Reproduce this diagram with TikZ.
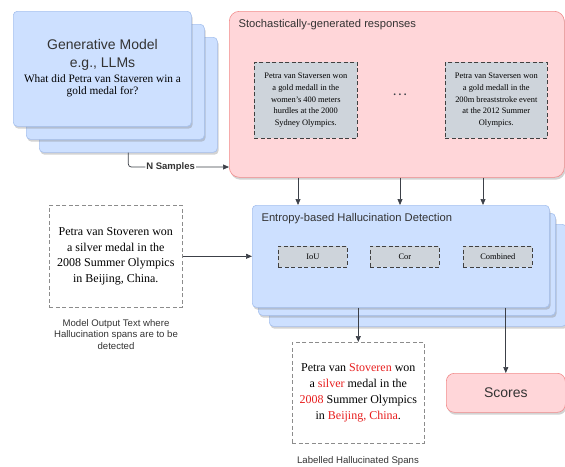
\documentclass[tikz,border=0pt]{standalone}
\usepackage{fontspec}
\setmainfont{Liberation Serif}
\setsansfont{Liberation Sans}
\usetikzlibrary{calc}
\usetikzlibrary{shadows}
\usetikzlibrary{arrows.meta}

\definecolor{cardblue}{RGB}{205,224,255}
\definecolor{cardblueline}{RGB}{165,192,238}
\definecolor{cardpink}{RGB}{255,214,217}
\definecolor{cardpinkline}{RGB}{242,140,140}
\definecolor{boxgray}{RGB}{206,212,219}
\definecolor{textdark}{RGB}{51,51,51}
\definecolor{linedark}{RGB}{60,64,72}
\definecolor{spanred}{RGB}{232,30,30}

\tikzset{
    card/.style={draw=cardblueline, fill=cardblue, rounded corners=4pt, line width=0.6pt,
        anchor=north west, inner sep=0pt,
        drop shadow={shadow xshift=1.2pt, shadow yshift=-2.4pt, opacity=0.35}},
    pinkcard/.style={card, draw=cardpinkline, fill=cardpink},
    sample/.style={draw=black!75, fill=boxgray, dash pattern=on 4pt off 2.5pt, line width=0.6pt,
        anchor=north west, inner sep=0pt, align=center,
        font=\fontsize{8.4}{11.6}\selectfont},
    textbox/.style={draw=black!45, fill=white, dash pattern=on 4pt off 2.5pt, line width=0.6pt,
        anchor=north west, inner sep=0pt, align=center,
        font=\fontsize{12}{15.9}\selectfont},
    caption/.style={align=center, text=textdark, font=\sffamily\fontsize{9.6}{11.5}\selectfont},
    conn/.style={draw=linedark, line width=0.7pt},
    arr/.style={conn, -{Triangle[length=6pt,width=5pt]}}
}

\begin{document}
\begin{tikzpicture}[x=1pt, y=-1pt]
    \useasboundingbox (0,0) rectangle (565,466);

    % generative model stack
    \foreach \i/\d in {3/26,2/13}{
        \node[card, minimum width=178pt, minimum height=115pt] (gen\i) at (13+\d, 11+\d) {};
    }
    \node[card, minimum width=178pt, minimum height=115pt] (gen1) at (13,11) {};
    \node[align=center, text=textdark, font=\sffamily\fontsize{14}{18}\selectfont] (gentitle) at (102.5,55) {Generative Model\\e.g., LLMs};
    \node[align=center, font=\fontsize{11.3}{12.2}\selectfont] (genq) at (102.5,86) {What did Petra van Staveren win a\\gold medal for?};

    % sampled responses
    \node[pinkcard, rounded corners=10pt, minimum width=335pt, minimum height=166pt] (pink) at (229,11) {};
    \node[anchor=west, text=textdark, font=\sffamily\fontsize{11.2}{13}\selectfont] (pinktitle) at (235,25) {Stochastically-generated responses};
    \node[sample, minimum width=103pt, minimum height=76pt] (resp1) at (254,62)
        {Petra van Staversen won\\a gold medall in the\\women's 400 meters\\hurdles at the 2000\\Sydney Olympics.};
    \node[text=linedark, font=\bfseries\fontsize{11}{12}\selectfont] (dots) at (400,95) {.\hspace{2.4pt}.\hspace{2.4pt}.};
    \node[sample, minimum width=102pt, minimum height=76pt] (resp2) at (445,62)
        {Petra van Staversen won\\a gold medall in the\\200m breaststroke event\\at the 2012 Summer\\Olympics.};

    % detection stack
    \node[card, minimum width=297pt, minimum height=102pt] (det3) at (269,224) {};
    \node[card, minimum width=297pt, minimum height=102pt] (det2) at (258,213) {};
    \node[card, minimum width=297pt, minimum height=102pt] (det1) at (252,205) {};
    \node[anchor=west, text=textdark, font=\sffamily\fontsize{11.2}{13}\selectfont] (dettitle) at (258,219) {Entropy-based Hallucination Detection};
    \node[sample, minimum width=69pt, minimum height=21pt] (iou) at (278,246) {IoU};
    \node[sample, minimum width=69pt, minimum height=21pt] (cor) at (370,246) {Cor};
    \node[sample, minimum width=69pt, minimum height=21pt] (comb) at (463,246) {Combined};

    % input text
    \node[textbox, minimum width=133pt, minimum height=102pt] (input) at (49,205)
        {Petra van Stoveren won\\a silver medal in the\\2008 Summer Olympics\\in Beijing, China.};
    \node[caption, anchor=north] (inputcap) at (116,316) {Model Output Text where\\Hallucination spans are to be\\detected};

    % outputs
    \node[textbox, minimum width=132pt, minimum height=101pt] (labelled) at (292,342)
        {Petra van \textcolor{spanred}{Stoveren} won\\a \textcolor{spanred}{silver} medal in the\\\textcolor{spanred}{2008} Summer Olympics\\in \textcolor{spanred}{Beijing, China}.};
    \node[caption] (labelledcap) at (358,461) {Labelled Hallucinated Spans};
    \node[pinkcard, rounded corners=8pt, minimum width=119pt, minimum height=39pt, text=textdark,
        font=\sffamily\fontsize{14}{16}\selectfont] (scores) at (446,373) {Scores};

    % connectors
    \coordinate (sampin) at (pink.west |- 0,167);
    \draw[arr, rounded corners=3pt] (gen3.south) |- node[pos=0.71, fill=white, inner sep=1pt, text=textdark,
        font=\sffamily\bfseries\fontsize{9.5}{11}\selectfont] (nsamp) {N Samples} (sampin);
    \foreach \x in {298,400,483}{
        \draw[arr] (pink.south -| \x,0) -- (det1.north -| \x,0);
    }
    \draw[arr] (input.east) -- (det1.west);
    \draw[arr] (det1.south -| labelled.north) -- (labelled.north);
    \draw[arr] (det1.south -| scores.north) -- (scores.north);
\end{tikzpicture}
\end{document}
